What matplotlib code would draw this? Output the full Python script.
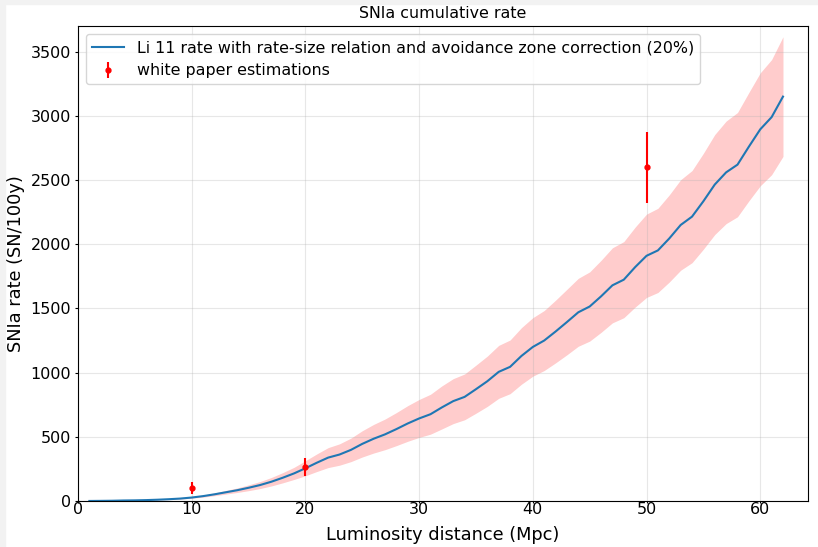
import matplotlib

matplotlib.use("Agg")
import matplotlib.pyplot as plt
from matplotlib.patches import Rectangle

# Li 11 cumulative rate vs luminosity distance
dist = list(range(1, 63))
rate = [0.3, 1, 2, 4, 5, 7, 10, 14, 19, 27,
        38, 52, 68, 84, 103, 124, 150, 181, 215, 255,
        298, 338, 362, 398, 445, 485, 519, 560, 604, 643,
        676, 729, 778, 811, 871, 933, 1006, 1045, 1130, 1200,
        1250, 1320, 1394, 1470, 1515, 1594, 1680, 1724, 1822, 1910,
        1952, 2045, 2150, 2215, 2335, 2465, 2560, 2620, 2760, 2895,
        2990, 3150]
# relative half-width of the shaded band
rel_err = [0.20, 0.20, 0.20, 0.20, 0.20, 0.20, 0.20, 0.20, 0.20, 0.20,
           0.21, 0.21, 0.21, 0.21, 0.22, 0.22, 0.22, 0.22, 0.22, 0.23,
           0.23, 0.23, 0.23, 0.23, 0.23, 0.23, 0.23, 0.23, 0.23, 0.23,
           0.23, 0.23, 0.225, 0.22, 0.215, 0.21, 0.205, 0.20, 0.195, 0.19,
           0.187, 0.185, 0.183, 0.18, 0.178, 0.176, 0.174, 0.172, 0.171, 0.17,
           0.168, 0.166, 0.164, 0.162, 0.16, 0.158, 0.156, 0.155, 0.153, 0.152,
           0.15, 0.148]

# white paper points
wp_dist = [10, 20, 50]
wp_rate = [100, 265, 2600]
wp_err = [45, 70, 275]

lower = [r * (1 - e) for r, e in zip(rate, rel_err)]
upper = [r * (1 + e) for r, e in zip(rate, rel_err)]

fig = plt.figure(figsize=(8.18, 5.47), dpi=100)
# thin grey strips along the top and left edge (screenshot border)
fig.patches.append(Rectangle((0, 0), 5 / 818, 1, transform=fig.transFigure,
                             color="#f2f2f2", zorder=0))
fig.patches.append(Rectangle((0, 1 - 4 / 547), 1, 4 / 547, transform=fig.transFigure,
                             color="#f2f2f2", zorder=0))
ax = fig.add_axes([78 / 818, 46 / 547, 730 / 818, 475 / 547])

ax.plot(dist, rate, color="#1f77b4", lw=1.5,
        label="Li 11 rate with rate-size relation and avoidance zone correction (20%)")
ax.fill_between(dist, lower, upper, color="red", alpha=0.2, lw=0)
ax.errorbar(wp_dist, wp_rate, yerr=wp_err, fmt=".", color="red", ms=7,
            label="white paper estimations")

ax.set_xlim(0, 64.2)
ax.set_ylim(0, 3700)
ax.grid(True, alpha=0.3)
ax.tick_params(labelsize=11.5)
ax.tick_params(axis="x", length=1.5, pad=-0.5)
ax.tick_params(axis="y", length=2.5, pad=2.5)
ax.set_xlabel("Luminosity distance (Mpc)", fontsize=12.8, labelpad=6)
ax.set_ylabel("SNIa rate (SN/100y)", fontsize=12.8)
ax.set_title("SNIa cumulative rate", fontsize=11.4)
ax.legend(loc="upper left", fontsize=11.4)

plt.savefig("out.png", dpi=100)
